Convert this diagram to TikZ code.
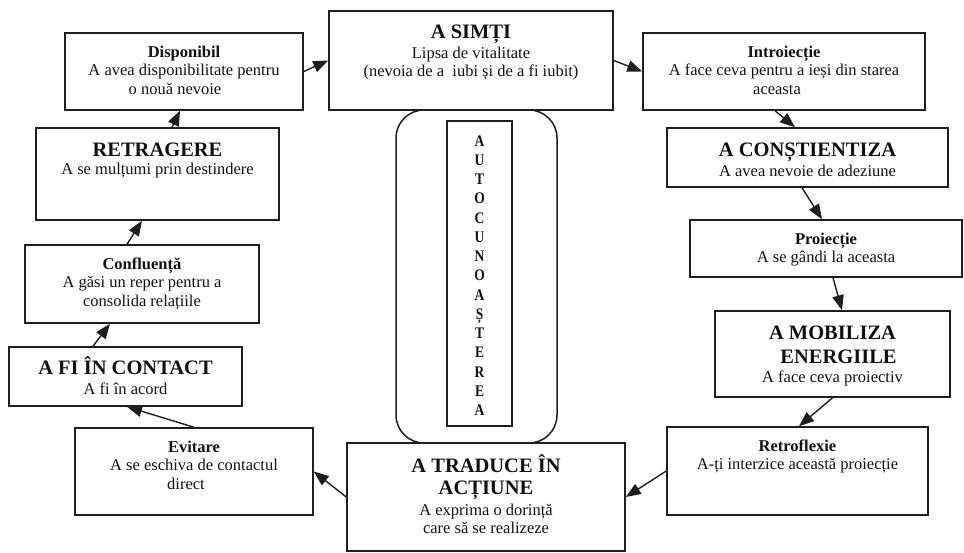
\documentclass[tikz,border=0pt]{standalone}
\usepackage{graphicx}
\usepackage{fontspec}
\setmainfont{Liberation Serif}
\usetikzlibrary{arrows.meta}
\definecolor{ln}{HTML}{1E1E1E}
\definecolor{tx}{HTML}{111111}
\tikzset{
  box/.style={draw=ln, line width=1.5pt, inner sep=0pt, fill=white},
  txt/.style={align=center, inner sep=0pt, anchor=north, text=tx, font=\fontsize{16.5}{18.5}\selectfont},
  conn/.style={draw=ln, line width=1.4pt, -{Triangle[length=15pt,width=11.5pt]}},
}
\newcommand\ttlA[1]{{\bfseries\fontsize{20.5}{18.5}\selectfont\rule{0pt}{20.5pt}#1}}
\newcommand\ttlB[1]{{\bfseries\fontsize{20.5}{18.5}\selectfont #1}}
\newcommand\hd[1]{{\bfseries\rule{0pt}{16.5pt}#1}}
\newcommand\lt[1]{\scalebox{1}[1.2]{#1}}
\begin{document}
\begin{tikzpicture}[x=1pt,y=-1pt]
\useasboundingbox (0,0) rectangle (964,552);
% central rounded frame and letter column
\node[draw=ln, line width=1.5pt, rounded corners=28pt, minimum width=161pt, minimum height=333pt, inner sep=0pt] (ring) at (476.5,276.5) {};
\node[box, minimum width=65pt, minimum height=305pt] (col) at (479.5,273.5) {};
\node[txt, font=\bfseries\fontsize{13.5}{19.24}\selectfont] (colT) at ([yshift=-12.2pt]col.north)
  {\rule{0pt}{13.5pt}\lt{A}\\\lt{U}\\\lt{T}\\\lt{O}\\\lt{C}\\\lt{U}\\\lt{N}\\\lt{O}\\\lt{A}\\\lt{Ș}\\\lt{T}\\\lt{E}\\\lt{R}\\\lt{E}\\\lt{A}};
% boxes
\node[box, minimum width=284pt, minimum height=99pt] (sim) at (471,60.5) {};
\node[box, minimum width=238pt, minimum height=77pt] (dis) at (184,71.5) {};
\node[box, minimum width=282pt, minimum height=77pt] (intro) at (784,71.5) {};
\node[box, minimum width=281pt, minimum height=59pt] (con) at (807.5,157.5) {};
\node[box, minimum width=272pt, minimum height=57pt] (pro) at (826,248.5) {};
\node[box, minimum width=235pt, minimum height=86pt] (mob) at (832.5,354) {};
\node[box, minimum width=261pt, minimum height=88pt] (ret) at (797.5,471) {};
\node[box, minimum width=278pt, minimum height=108pt] (tra) at (486,497) {};
\node[box, minimum width=238pt, minimum height=87pt] (evi) at (194,471.5) {};
\node[box, minimum width=233pt, minimum height=59pt] (fic) at (125.5,376.5) {};
\node[box, minimum width=234pt, minimum height=78pt] (conf) at (142,284) {};
\node[box, minimum width=243pt, minimum height=92pt] (retr) at (157.5,174) {};
% texts
\node[txt] (simT) at ([yshift=-7.5pt]sim.north) {\ttlA{A SIMȚI}\\[1.5pt]Lipsa de vitalitate\\(nevoia de a\ \ iubi și de a fi iubit)};
\node[txt] (disT) at ([yshift=-8.5pt]dis.north) {\hd{Disponibil}\\A avea disponibilitate pentru\\o nouă nevoie\hspace*{18pt}};
\node[txt] (introT) at ([yshift=-8.5pt]intro.north) {\hd{Introiecție}\\A face ceva pentru a ieși din starea\\aceasta\hspace*{14pt}};
\node[txt] (conT) at ([yshift=-8.5pt]con.north) {\ttlA{A CONȘTIENTIZA}\\[1.5pt]A avea nevoie de adeziune};
\node[txt] (proT) at ([yshift=-8.5pt]pro.north) {\hd{Proiecție}\\A se gândi la aceasta};
\node[txt] (mobT) at ([yshift=-8.5pt]mob.north) {\ttlA{A MOBILIZA}\\[5.5pt]\ttlB{\hspace*{12pt}ENERGIILE}\\[0.5pt]A face ceva proiectiv};
\node[txt] (retT) at ([yshift=-8.5pt]ret.north) {\hd{Retroflexie}\\A-ți interzice această proiecție};
\node[txt] (traT) at ([yshift=-9.5pt]tra.north) {\ttlA{A TRADUCE ÎN}\\[3.5pt]\ttlB{ACȚIUNE}\\[2.5pt]A exprima o dorință\\care să se realizeze};
\node[txt] (eviT) at ([yshift=-8.5pt]evi.north) {\hd{Evitare}\\A se eschiva de contactul\\direct\hspace*{16pt}};
\node[txt] (ficT) at ([yshift=-7.5pt]fic.north) {\ttlA{A FI ÎN CONTACT}\\[1.5pt]A fi în acord};
\node[txt] (confT) at ([yshift=-8.5pt]conf.north) {\hd{Confluență}\\A găsi un reper pentru a\\consolida relațiile};
\node[txt] (retrT) at ([yshift=-8.5pt]retr.north) {\ttlA{RETRAGERE}\\A se mulțumi prin destindere};
% connectors
\draw[conn] (dis.east) -- (sim.west);
\draw[conn] (sim.east) -- (intro.west);
\draw[conn] ([xshift=-9pt]intro.south) -- ([xshift=-12.5pt]con.north);
\draw[conn] ([xshift=-5.5pt]con.south) -- ([xshift=-4pt]pro.north);
\draw[conn] ([xshift=7pt]pro.south) -- ([xshift=9.5pt]mob.north);
\draw[conn] (mob.south) -- ([xshift=1.5pt]ret.north);
\draw[conn] (ret.west) -- (tra.east);
\draw[conn] (tra.west) -- (evi.east);
\draw[conn] (evi.north) -- ([xshift=1.5pt]fic.south);
\draw[conn] ([xshift=-32.5pt]fic.north) -- ([xshift=-32pt]conf.south);
\draw[conn] ([xshift=-15pt]conf.north) -- ([xshift=-15.5pt]retr.south);
\draw[conn] ([xshift=14.5pt]retr.north) -- ([xshift=-4pt]dis.south);
\end{tikzpicture}
\end{document}
